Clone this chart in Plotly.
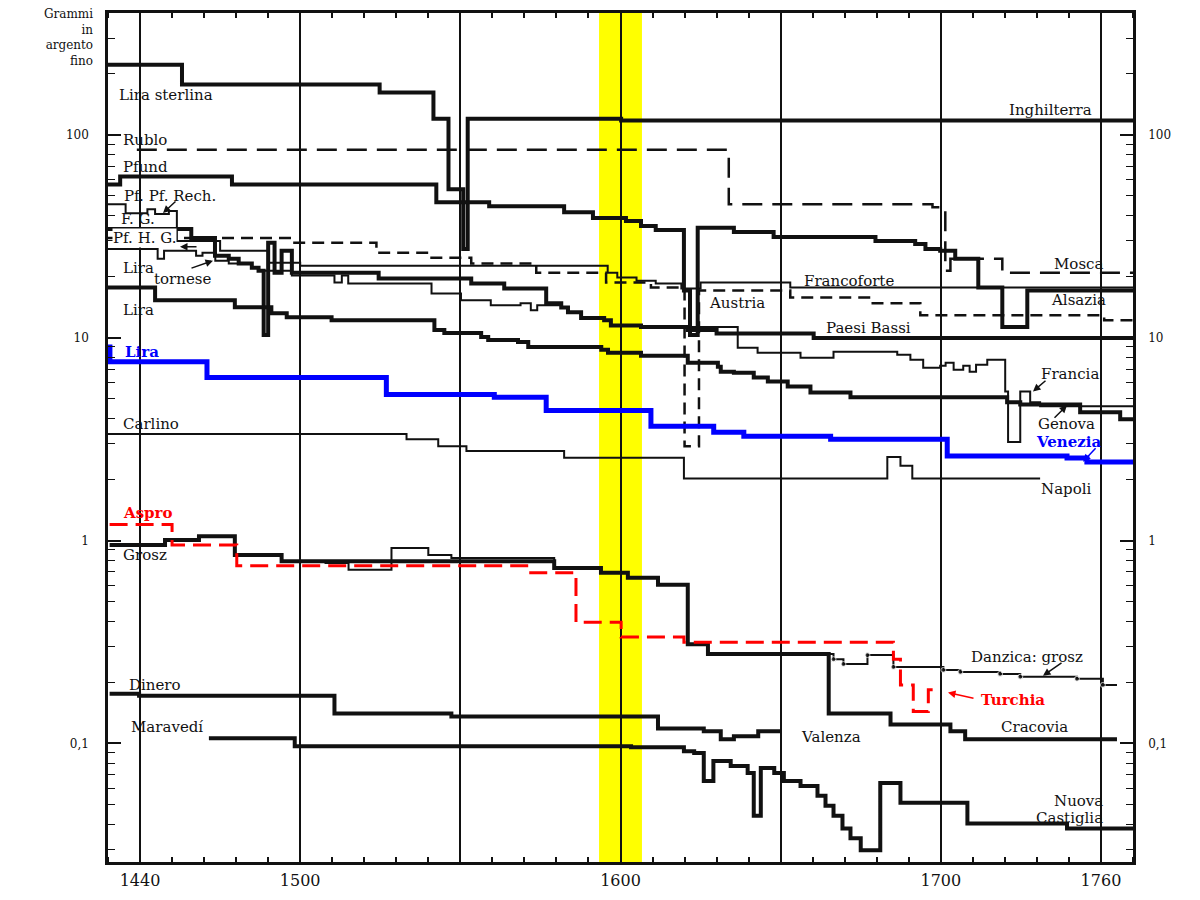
import math
import plotly.graph_objects as go

# ---------------- data (years, grams of fine silver) ----------------
ingh_years = [1440, 1463.1, 1524.8, 1541.6, 1546.3, 1550.9, 1552.3, 1600.2, 1760]
ingh_vals = [222, 177, 162, 120, 54, 27.4, 120, 117.7, 117.7]

mosca_years = [1449, 1633.8, 1697.4, 1701.4, 1703, 1719.2, 1760]
mosca_vals = [84.5, 45.5, 44.0, 21.4, 24.5, 20.9, 20.9]

alsazia_years = [1440, 1443.8, 1478.7, 1542.5, 1559, 1582.4, 1591.4, 1601.7, 1606.4, 1611,
                 1619.8, 1621.7, 1624.1, 1635.4, 1647.8, 1679.6, 1692, 1695.2, 1699.8, 1704.5,
                 1711.7, 1719.2, 1727, 1760]
alsazia_vals = [57.0, 62.4, 57.0, 46.6, 44.5, 41.6, 38.9, 37.6, 35.5, 34.0,
                17.1, 10.3, 34.8, 33.2, 31.4, 30.0, 29.0, 27.4, 26.8, 24.5,
                17.7, 11.3, 17.1, 17.1]

francoforte_years = [1440, 1445.5, 1452.3, 1454.7, 1459, 1461.5, 1475, 1490, 1500, 1596,
                     1599, 1605, 1611, 1619, 1625, 1653, 1760]
francoforte_vals = [45.5, 41.1, 43.0, 40.7, 42.1, 30.0, 26.8, 23.4, 22.65, 20.9,
                    19.8, 19.1, 18.5, 17.5, 18.7, 17.7, 17.7]

paesi_years = [1440, 1466, 1473.4, 1477.7, 1480.8, 1484.9, 1487, 1488.6, 1490, 1492,
               1494.2, 1497.4, 1524.5, 1553.4, 1563.7, 1576.8, 1581.5, 1583.6, 1587.7, 1594.9,
               1597, 1606.4, 1621, 1630, 1660.3, 1760]
paesi_vals = [34.4, 31.0, 25.35, 24.5, 23.2, 22.15, 21.4, 10.3, 29.35, 20.9,
              26.8, 20.9, 19.6, 18.5, 17.5, 14.8, 14.1, 13.35, 12.5, 12.2,
              11.5, 11.3, 10.9, 10.5, 9.97, 9.97]

austria_years = [1440, 1497.4, 1523.8, 1541, 1553.4, 1573.7, 1595.5, 1609.5, 1620, 1624.5,
                 1653, 1678, 1693.6, 1751, 1760]
austria_vals = [31.0, 29.35, 26.2, 24.8, 23.2, 20.9, 18.7, 17.7, 2.92, 17.1,
                15.8, 14.8, 12.9, 12.2, 12.2]

francia_years = [1440, 1455.5, 1457.5, 1467.5, 1469.5, 1473.5, 1477.7, 1484.9, 1487, 1497.4,
                 1510.7, 1513, 1515, 1541, 1550.2, 1559.5, 1568.8, 1572, 1574, 1581.5,
                 1583.6, 1587.7, 1594.9, 1597, 1606.4, 1636.6, 1642.8, 1656.2, 1666.5, 1686.4,
                 1690.5, 1694.5, 1699.8, 1701.5, 1704, 1707, 1709, 1711, 1714.5, 1720.1,
                 1721, 1724.8, 1727.9, 1731, 1760]
francia_vals = [27.4, 24.5, 26.8, 25.35, 26.2, 23.96, 23.2, 22.15, 21.4, 20.25,
                18.71, 20.25, 18.5, 16.54, 15.29, 14.45, 14.77, 13.65, 14.45, 14.13,
                13.35, 12.48, 12.2, 11.53, 11.28, 8.91, 8.42, 7.96, 8.52, 8.23,
                7.78, 7.11, 7.27, 7.52, 6.95, 7.27, 6.80, 7.36, 7.78, 5.43,
                3.06, 5.43, 4.80, 4.59, 4.59]

genova_years = [1440, 1454.7, 1479.6, 1491, 1495.8, 1509.8, 1541.9, 1545, 1556.5, 1558.7,
                1568, 1571.2, 1594, 1596.1, 1606.4, 1621, 1630.4, 1631.3, 1635.4, 1641.6,
                1646, 1652.2, 1659.3, 1671.8, 1720.7, 1724.8, 1743.5, 1756, 1760]
genova_vals = [17.69, 15.29, 14.13, 13.2, 12.62, 12.2, 10.91, 10.54, 10.08, 9.74,
               9.53, 9.01, 8.71, 8.42, 8.14, 7.52, 7.19, 6.8, 6.72, 6.36,
               6.08, 5.74, 5.37, 5.08, 4.8, 4.69, 4.29, 3.96, 3.96]

venezia_years = [1440, 1440.6, 1470.9, 1526.9, 1560.6, 1576.8, 1609.5, 1629.1, 1638.5, 1665.6,
                 1702, 1739.4, 1745.6, 1760]
venezia_vals = [9.0, 7.61, 6.36, 5.25, 5.08, 4.38, 3.66, 3.42, 3.27, 3.16,
                2.61, 2.55, 2.44, 2.44]

napoli_years = [1440, 1533.2, 1543.1, 1551.9, 1582.4, 1619.8, 1683.3, 1687.4, 1691.1, 1731]
napoli_vals = [3.35, 3.16, 2.92, 2.76, 2.56, 2.02, 2.58, 2.34, 2.02, 2.02]

turchia_years = [1440.5, 1460, 1480.2, 1571.5, 1586.1, 1600.2, 1619.8, 1685.2, 1687.4, 1691.4,
                 1696.1, 1699.2]
turchia_vals = [1.20, 0.95, 0.75, 0.693, 0.395, 0.334, 0.315, 0.26, 0.194, 0.1435,
                0.184, 0.184]

cracovia_years = [1440.5, 1457.8, 1468.4, 1479.6, 1494.2, 1579.3, 1593.9, 1602.3, 1611.7, 1621,
                  1627.3, 1665, 1684.3, 1703, 1707.6, 1755]
cracovia_vals = [0.95, 1.005, 1.051, 0.849, 0.79, 0.733, 0.693, 0.655, 0.605, 0.308,
                 0.2756, 0.1403, 0.124, 0.1146, 0.1047, 0.1047]

danzica_years = [1507.6, 1515.1, 1528.5, 1540, 1547.2, 1579.3, 1593.9, 1602.3, 1611.7, 1621,
                 1627.3, 1666.5, 1669.6, 1677.1, 1685.2, 1700.8, 1706.1, 1718.5, 1724.8, 1742.5,
                 1750.6, 1755]
danzica_vals = [0.775, 0.717, 0.918, 0.849, 0.82, 0.733, 0.693, 0.655, 0.605, 0.308,
                0.2756, 0.26, 0.246, 0.2724, 0.238, 0.23, 0.225, 0.22, 0.213, 0.208,
                0.194, 0.194]

valenza_years = [1440.5, 1449.7, 1510.7, 1547.2, 1611.7, 1626, 1631.3, 1635.4, 1643, 1650]
valenza_vals = [0.1757, 0.1717, 0.1403, 0.1356, 0.1185, 0.1146, 0.1047, 0.1083, 0.1146, 0.1146]

castiglia_years = [1471.5, 1498.3, 1603.3, 1619.8, 1623, 1626, 1629, 1634.4, 1639.7, 1641.6,
                   1643.8, 1648, 1651, 1656.2, 1661.5, 1664, 1666.5, 1669.3, 1671.8, 1675,
                   1681.1, 1687.4, 1708.3, 1739.4, 1760]
castiglia_vals = [0.1059, 0.0968, 0.0957, 0.0915, 0.0895, 0.0653, 0.0818, 0.0773, 0.0714, 0.044,
                  0.0756, 0.0714, 0.0653, 0.0617, 0.0551, 0.0493, 0.044, 0.038, 0.034, 0.0297,
                  0.0638, 0.051, 0.0402, 0.038, 0.038]

band_start, band_end = 1593.3, 1606.7

x_tick_vals = [1450, 1500, 1550, 1600, 1650, 1700, 1750]
x_tick_text = ["1440", "1500", "", "1600", "", "1700", "1760"]
y_tick_vals = [0.1, 1, 10, 100]
y_tick_text = ["0,1", "1", "10", "100"]

# ---------------- styling ----------------
BLACK = "#111111"
BLUE = "#0000FF"
RED = "#FF0000"
SERIF = "DejaVu Serif"
W, H = 1200, 900
L, R, T, B = 108, 67, 10, 33


def px(x):
    return (x - L) / (W - L - R)


def py(y):
    return (H - B - y) / (H - T - B)


fig = go.Figure()


def add(x, y, width, color=BLACK, dash=None, marker_sizes=None):
    fig.add_trace(go.Scatter(
        x=x, y=y, mode="lines+markers" if marker_sizes else "lines",
        line=dict(color=color, width=width, dash=dash, shape="hv"),
        marker=dict(size=marker_sizes, color=color) if marker_sizes else None,
        hoverinfo="skip", showlegend=False))


# thin / dashed first
add(francoforte_years, francoforte_vals, 2)
add(francia_years, francia_vals, 2)
add(napoli_years, napoli_vals, 2)
add(danzica_years, danzica_vals, 2,
    marker_sizes=[0 if yr < 1666 or yr > 1752 else 5 for yr in danzica_years])
add(austria_years, austria_vals, 2.5, dash="12px,7px")
add(mosca_years, mosca_vals, 2.5, dash="20px,10px")
# thick
add(ingh_years, ingh_vals, 4)
add(alsazia_years, alsazia_vals, 4)
add(paesi_years, paesi_vals, 4)
add(genova_years, genova_vals, 4)
add(cracovia_years, cracovia_vals, 4)
add(valenza_years, valenza_vals, 4)
add(castiglia_years, castiglia_vals, 4)
# coloured
add(turchia_years, turchia_vals, 3, color=RED, dash="18px,8px")
add(venezia_years, venezia_vals, 5, color=BLUE)

# invisible trace to activate the right axis
fig.add_trace(go.Scatter(x=[1600], y=[1], yaxis="y2", mode="markers",
                         marker=dict(opacity=0), hoverinfo="skip", showlegend=False))

fig.add_shape(type="rect", xref="x", yref="paper", x0=band_start, x1=band_end, y0=0, y1=1,
              fillcolor="#FFFF00", line=dict(width=0), layer="below")

ymin, ymax = 0.026, 399
minor_vals = [m * 10 ** k for k in range(-2, 3) for m in range(2, 10) if ymin < m * 10 ** k < ymax]

axis_font = dict(family=SERIF, size=16, color=BLACK)
yfont = dict(family=SERIF, size=12, color=BLACK)

common_y = dict(type="log", range=[math.log10(ymin), math.log10(ymax)],
                tickmode="array", tickvals=y_tick_vals, ticktext=y_tick_text,
                ticks="inside", ticklen=13, tickwidth=1.5, tickcolor=BLACK,
                showgrid=False, zeroline=False, showline=True, linecolor=BLACK, linewidth=2.5,
                tickfont=yfont,
                minor=dict(tickmode="array", tickvals=minor_vals, ticks="inside", ticklen=7,
                           tickwidth=1.2, tickcolor=BLACK, showgrid=False))

fig.update_layout(
    width=W, height=H, autosize=False,
    margin=dict(l=L, r=R, t=T, b=B, pad=0),
    paper_bgcolor="white", plot_bgcolor="white", showlegend=False,
    xaxis=dict(range=[1440, 1760], tickmode="array", tickvals=x_tick_vals, ticktext=x_tick_text,
               showgrid=True, gridcolor=BLACK, gridwidth=2, zeroline=False,
               showline=True, linecolor=BLACK, linewidth=2.5, mirror="ticks", ticks="",
               tickfont=axis_font, ticklabelstandoff=2,
               minor=dict(tickmode="linear", tick0=1440, dtick=10, ticks="inside", ticklen=5,
                          tickwidth=1.5, tickcolor=BLACK, showgrid=False)),
    yaxis=dict(**common_y, side="left", ticklabelstandoff=14),
    yaxis2=dict(**common_y, side="right", overlaying="y", ticklabelstandoff=10),
)

# ---------------- text labels ----------------
# (text, left px, centre px, colour, bold, white background)
labels = [
    ("Lira sterlina", 118, 93, BLACK, False, False),
    ("Rublo", 122, 138, BLACK, False, False),
    ("Pfund", 122, 165, BLACK, False, False),
    ("Pf. Pf. Rech.", 123, 195, BLACK, False, False),
    ("F. G.", 120, 218, BLACK, False, False),
    ("Pf. H. G.", 112, 237, BLACK, False, True),
    ("Lira", 122, 267, BLACK, False, False),
    ("tornese", 153, 279, BLACK, False, False),
    ("Lira", 122, 310, BLACK, False, False),
    ("Lira", 124, 352, BLUE, True, False),
    ("Carlino", 122, 425, BLACK, False, False),
    ("Aspro", 122, 515, RED, True, False),
    ("Grosz", 122, 557, BLACK, False, False),
    ("Dinero", 128, 688, BLACK, False, False),
    ("Maravedí", 130, 731, BLACK, False, False),
    ("Inghilterra", 1008, 108, BLACK, False, False),
    ("Mosca", 1053, 263, BLACK, False, False),
    ("Francoforte", 803, 281, BLACK, False, False),
    ("Alsazia", 1050, 300, BLACK, False, False),
    ("Austria", 708, 303, BLACK, False, False),
    ("Paesi Bassi", 825, 328, BLACK, False, False),
    ("Francia", 1040, 374, BLACK, False, False),
    ("Genova", 1037, 425, BLACK, False, False),
    ("Venezia", 1035, 443, BLUE, True, False),
    ("Napoli", 1040, 490, BLACK, False, False),
    ("Danzica: grosz", 970, 660, BLACK, False, False),
    ("Turchia", 980, 703, RED, True, False),
    ("Cracovia", 1000, 731, BLACK, False, False),
    ("Valenza", 800, 741, BLACK, False, False),
    ("Nuova", 1053, 805, BLACK, False, False),
    ("Castiglia", 1035, 823, BLACK, False, False),
]
for text, x, y, color, bold, bg in labels:
    fig.add_annotation(text=f"<b>{text}</b>" if bold else text, x=px(x), y=py(y),
                       xref="paper", yref="paper", xanchor="left", yanchor="middle",
                       showarrow=False, bgcolor="white" if bg else None, borderpad=0,
                       font=dict(family=SERIF, size=15, color=color))

# y-axis title (one block, right aligned)
fig.add_annotation(text="Grammi<br>in<br>argento<br>fino", x=px(94), y=py(3),
                   xref="paper", yref="paper", xanchor="right", yanchor="top", align="right",
                   showarrow=False, borderpad=0, font=dict(family=SERIF, size=12, color=BLACK))

# arrows: (head x, head y, tail x, tail y, colour)
arrows = [
    (163, 212, 177, 199, BLACK),
    (213, 260, 190, 268, BLACK),
    (180, 246, 198, 246, BLACK),
    (1033, 392, 1047, 380, BLACK),
    (1067, 406, 1053, 420, BLACK),
    (1083, 463, 1097, 448, BLUE),
    (1043, 679, 1063, 665, BLACK),
    (948, 696, 975, 702, RED),
]
for hx, hy, tx, ty, color in arrows:
    fig.add_annotation(text="", x=px(hx), y=py(hy), xref="paper", yref="paper",
                       ax=tx - hx, ay=ty - hy, showarrow=True, arrowhead=2,
                       arrowsize=1, arrowwidth=1.5, arrowcolor=color)

fig.write_html("out.html")
